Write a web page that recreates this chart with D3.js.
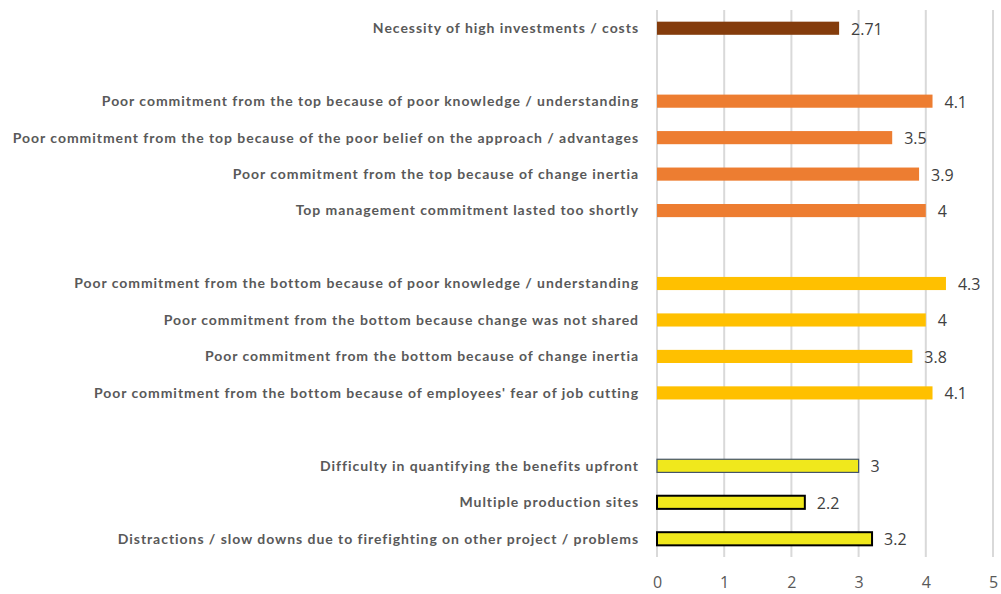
<!DOCTYPE html>
<html>
<head>
<meta charset="utf-8">
<script src="https://cdn.jsdelivr.net/npm/d3@7"></script>
<style>
  body { margin: 0; background: #fff; }
  .label { font-family: Lato, sans-serif; font-weight: bold; font-size: 14px; letter-spacing: 0.95px; fill: #595959; }
  .value { font-family: "Open Sans", sans-serif; font-size: 16px; fill: #404040; }
  .tick text { font-family: "Open Sans", sans-serif; font-size: 16px; fill: #595959; }
</style>
</head>
<body>
<script>
// slots in draw order (top to bottom); blanks keep the group gaps
var slots = ["s0", "gap1", "s2", "s3", "s4", "s5", "gap2", "s7", "s8", "s9", "s10", "gap3", "s12", "s13", "s14"];

var labels = [
  "Necessity of high investments / costs",
  "Poor commitment from the top because of poor knowledge / understanding",
  "Poor commitment from the top because of the poor belief on the approach / advantages",
  "Poor commitment from the top because of change inertia",
  "Top management commitment lasted too shortly",
  "Poor commitment from the bottom because of poor knowledge / understanding",
  "Poor commitment from the bottom because change was not shared",
  "Poor commitment from the bottom because of change inertia",
  "Poor commitment from the bottom because of employees' fear of job cutting",
  "Difficulty in quantifying the benefits upfront ",
  "Multiple production sites",
  "Distractions / slow downs due to firefighting on other project / problems"
];
var slotOf = ["s0", "s2", "s3", "s4", "s5", "s7", "s8", "s9", "s10", "s12", "s13", "s14"];
var values = [2.71, 4.1, 3.5, 3.9, 4, 4.3, 4, 3.8, 4.1, 3, 2.2, 3.2];
var valueText = ["2.71", "4.1", "3.5", "3.9", "4", "4.3", "4", "3.8", "4.1", "3", "2.2", "3.2"];
var group = ["a", "b", "b", "b", "b", "c", "c", "c", "c", "d", "d", "d"];
var xTicks = [0, 1, 2, 3, 4, 5];

var fills = {a: "#843C0C", b: "#ED7D31", c: "#FFC000", d: "#F0E81C"};

var data = labels.map(function(l, i) {
  return {label: l, slot: slotOf[i], value: values[i], text: valueText[i], group: group[i], idx: i};
});

var margin = {top: 10, right: 8, bottom: 37, left: 657},
    width = 1001 - margin.left - margin.right,
    height = 594 - margin.top - margin.bottom;

var x = d3.scaleLinear()
    .domain([0, 5])
    .range([0, 336]);

var y = d3.scaleBand()
    .domain(slots)
    .range([0, height])
    .paddingInner(0.64)
    .paddingOuter(0.32);

var svg = d3.select("body").append("svg")
    .attr("width", 1001)
    .attr("height", 594)
  .append("g")
    .attr("transform", "translate(" + margin.left + "," + margin.top + ")");

// gridlines
svg.selectAll(".grid")
    .data(xTicks)
  .enter().append("line")
    .attr("class", "grid")
    .attr("x1", function(d) { return x(d); })
    .attr("x2", function(d) { return x(d); })
    .attr("y1", 0)
    .attr("y2", height)
    .attr("stroke", "#D9D9D9")
    .attr("stroke-width", 2);

var xAxis = d3.axisBottom(x).tickValues(xTicks).tickFormat(d3.format("d")).tickSize(0).tickPadding(20);

svg.append("g")
    .attr("class", "x axis")
    .attr("transform", "translate(0," + height + ")")
    .call(xAxis)
    .call(function(g) { g.select(".domain").remove(); });

svg.selectAll(".bar")
    .data(data)
  .enter().append("rect")
    .attr("class", "bar")
    .attr("x", x(0))
    .attr("y", function(d) { return y(d.slot); })
    .attr("width", function(d) { return x(d.value) - x(0); })
    .attr("height", y.bandwidth())
    .attr("fill", function(d) { return fills[d.group]; })
    .attr("stroke", function(d) {
      if (d.group !== "d") return "none";
      return d.idx === 9 ? "#44546A" : "#000";
    })
    .attr("stroke-width", function(d) { return d.idx === 9 ? 1.2 : 2; });

svg.selectAll(".value")
    .data(data)
  .enter().append("text")
    .attr("class", "value")
    .attr("x", function(d) { return x(d.value) + 12; })
    .attr("y", function(d) { return y(d.slot) + y.bandwidth() / 2; })
    .attr("dy", "0.4em")
    .text(function(d) { return d.text; });

svg.selectAll(".label")
    .data(data)
  .enter().append("text")
    .attr("class", "label")
    .attr("text-anchor", "end")
    .attr("x", -18)
    .attr("y", function(d) { return y(d.slot) + y.bandwidth() / 2; })
    .attr("dy", "0.35em")
    .text(function(d) { return d.label; });
</script>
</body>
</html>
